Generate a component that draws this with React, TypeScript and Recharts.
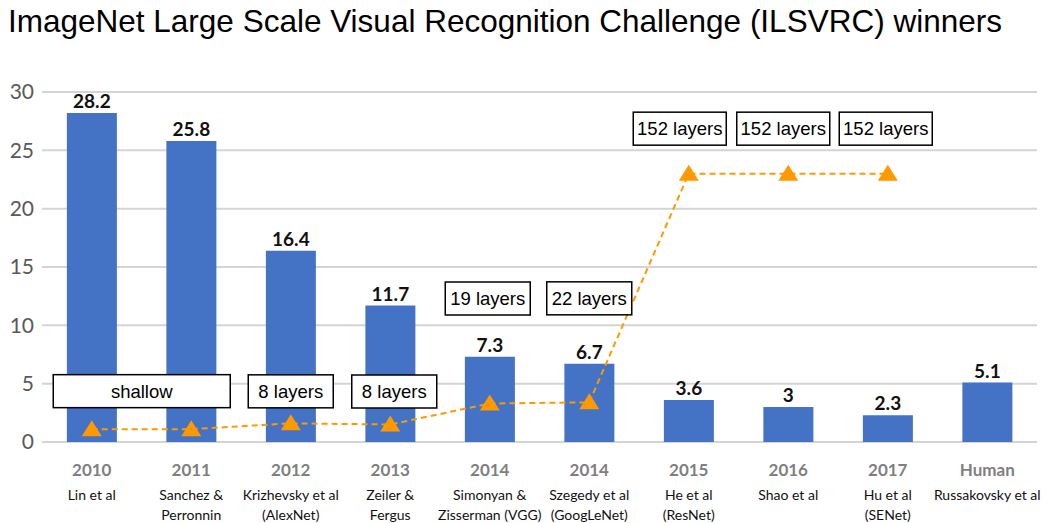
import React from 'react';
import { ComposedChart, Bar, Line, XAxis, YAxis, CartesianGrid, LabelList } from 'recharts';

const years = ['2010', '2011', '2012', '2013', '2014', '2014 ', '2015', '2016', '2017', 'Human'];
const authors = [
  ['Lin et al'],
  ['Sanchez &', 'Perronnin'],
  ['Krizhevsky et al', '(AlexNet)'],
  ['Zeiler &', 'Fergus'],
  ['Simonyan &', 'Zisserman (VGG)'],
  ['Szegedy et al', '(GoogLeNet)'],
  ['He et al', '(ResNet)'],
  ['Shao et al'],
  ['Hu et al', '(SENet)'],
  ['Russakovsky et al'],
];
const errorRate = [28.2, 25.8, 16.4, 11.7, 7.3, 6.7, 3.6, 3, 2.3, 5.1];
const depthMarker = [1.1, 1.1, 1.6, 1.5, 3.3, 3.4, 23, 23, 23, null];
const layerLabels = ['shallow', '', '8 layers', '8 layers', '19 layers', '22 layers', '152 layers', '152 layers', '152 layers', ''];
const yTicks = [0, 5, 10, 15, 20, 25, 30];

const data = years.map((year, i) => ({
  year,
  error: errorRate[i],
  depth: depthMarker[i],
  layers: layerLabels[i],
}));

// annotation box placement (pixels above the marker, x shift)
const boxLift = [38, 0, 32, 33, 105, 104, 45, 45, 45, 0];
const boxShift = [50, 0, 0, 4, -2, 0, -9, -5, -2, 0];

const ORANGE = '#FF9900';
const FONT = '"Liberation Sans", Arial, sans-serif';
const LABEL_FONT = 'Lato, "Open Sans", sans-serif';

const YearTick = (props: any) => {
  const { x, y, payload, index } = props;
  const lines: string[] = authors[index] || [];
  return (
    <g>
      <text x={x} y={y + 26} textAnchor="middle" fill="#7f7f7f" fontSize={17} fontWeight={700} fontFamily={LABEL_FONT}>
        {String(payload.value).trim()}
      </text>
      {lines.map((l, k) => (
        <text key={k} x={x} y={y + 50 + k * 20} textAnchor="middle" fill="#111" fontSize={14} fontFamily={LABEL_FONT}>
          {l}
        </text>
      ))}
    </g>
  );
};

const Triangle = (props: any) => {
  const { cx, cy } = props;
  if (cx == null || cy == null) return null;
  return <path d={`M${cx},${cy - 9} L${cx + 10},${cy + 7} L${cx - 10},${cy + 7} Z`} fill={ORANGE} />;
};

const LayerBox = (props: any) => {
  const { x, y, index, value } = props;
  if (!value) return null;
  const w = value === 'shallow' ? 177 : value.length > 9 ? 93 : 85;
  const h = 33;
  const cx = x + boxShift[index];
  const cy = y - boxLift[index];
  return (
    <g>
      <rect x={cx - w / 2} y={cy - h / 2} width={w} height={h} fill="#fff" stroke="#000" strokeWidth={1.5} />
      <text x={cx} y={cy + 6.5} textAnchor="middle" fontSize={18.5} fill="#000" fontFamily={FONT}>
        {value}
      </text>
    </g>
  );
};

const BarValue = (props: any) => {
  const { x, y, width, value } = props;
  return (
    <text x={x + width / 2} y={y - 5} textAnchor="middle" fontSize={19} fontWeight={700} fill="#111" fontFamily={LABEL_FONT}>
      {value}
    </text>
  );
};

export default function App() {
  return (
    <div style={{ position: 'absolute', left: 0, top: 0, width: 1055, height: 523, background: '#fff' }}>
      <div style={{ position: 'absolute', left: 8, top: 3, fontFamily: FONT, fontSize: 31.5, color: '#000', whiteSpace: 'nowrap' }}>
        ImageNet Large Scale Visual Recognition Challenge (ILSVRC) winners
      </div>
      <ComposedChart width={1055} height={523} data={data} margin={{ top: 92, right: 18, left: 0, bottom: 0 }} barCategoryGap="25%">
        <CartesianGrid vertical={false} stroke="#d4d4d4" strokeWidth={2} />
        <XAxis dataKey="year" height={81} axisLine={false} tickLine={false} interval={0} tick={<YearTick />} />
        <YAxis
          width={42}
          domain={[0, 30]}
          ticks={yTicks}
          axisLine={false}
          tickLine={false}
          tick={{ fill: '#595959', fontSize: 21, fontFamily: LABEL_FONT }}
        />
        <Bar dataKey="error" fill="#4472C4" isAnimationActive={false}>
          <LabelList dataKey="error" content={<BarValue />} />
        </Bar>
        <Line
          type="linear"
          dataKey="depth"
          stroke={ORANGE}
          strokeWidth={2}
          strokeDasharray="6 4"
          dot={<Triangle />}
          activeDot={false}
          isAnimationActive={false}
        >
          <LabelList dataKey="layers" content={<LayerBox />} />
        </Line>
      </ComposedChart>
    </div>
  );
}
